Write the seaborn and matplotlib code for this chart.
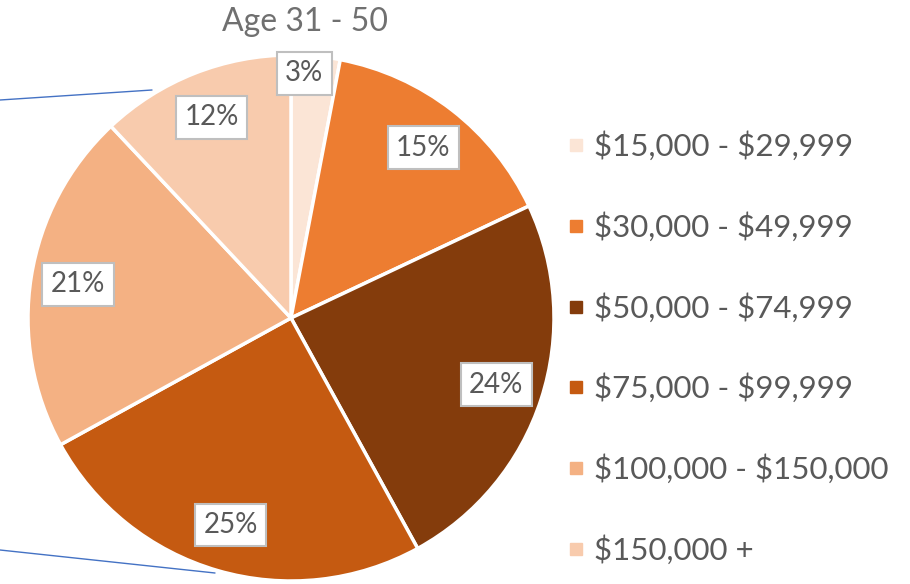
import matplotlib
matplotlib.use("Agg")
import matplotlib.pyplot as plt
from matplotlib.lines import Line2D
import seaborn as sns
import numpy as np

categories = ["$15,000 - $29,999", "$30,000 - $49,999", "$50,000 - $74,999",
              "$75,000 - $99,999", "$100,000 - $150,000", "$150,000 +"]
shares = [3, 15, 24, 25, 21, 12]
colors = ["#FBE5D6", "#ED7D31", "#843C0C", "#C55A11", "#F4B183", "#F8CBAD"]
title = "Age 31 - 50"

sns.set_theme(style="white")
plt.rcParams["font.family"] = ["Lato", "DejaVu Sans"]
plt.rcParams["text.parse_math"] = False
palette = sns.color_palette(colors)

W, H = 910, 584
fig = plt.figure(figsize=(W / 100, H / 100), dpi=100)
cx, cy, r = 291, 318, 263
ax = fig.add_axes([(cx - r) / W, (H - cy - r) / H, 2 * r / W, 2 * r / H])

wedges, texts, autotexts = ax.pie(
    shares, colors=palette, startangle=90, counterclock=False,
    autopct=lambda p: f"{p:.0f}%", pctdistance=0.82,
    wedgeprops=dict(edgecolor="white", linewidth=2.5),
    textprops=dict(color="#595959", fontsize=20),
)
for w in wedges:
    w.set_clip_on(False)
for i, t in enumerate(autotexts):
    if shares[i] < 5:
        x, y = t.get_position()
        t.set_position((x * 0.65, y * 1.14))
    t.set_bbox(dict(boxstyle="square,pad=0.3", facecolor="white",
                    edgecolor="#BFBFBF", linewidth=1.5))
ax.set_xlim(-1, 1)
ax.set_ylim(-1, 1)
ax.set_aspect("equal")
ax.axis("off")

fig.text(305 / W, 1 - 22 / H, title, ha="center", va="center",
         fontsize=23, color="#707070")

handles = [Line2D([], [], marker="s", linestyle="", markersize=9,
                  markerfacecolor=c, markeredgecolor=c) for c in palette]
leg = fig.legend(handles, categories, loc="upper left",
                 bbox_to_anchor=(551 / W, 1 - 119 / H), frameon=False,
                 fontsize=22.5, labelspacing=1.63, handletextpad=0.18,
                 handlelength=0.8, borderaxespad=0, borderpad=0.4)
for t in leg.get_texts():
    t.set_color("#595959")

fig.add_artist(Line2D([0, 152 / W], [1 - 100 / H, 1 - 90 / H],
                      color="#4472C4", linewidth=1))
fig.add_artist(Line2D([0, 215 / W], [1 - 550 / H, 1 - 573 / H],
                      color="#4472C4", linewidth=1))

fig.savefig("out.png", dpi=100)
